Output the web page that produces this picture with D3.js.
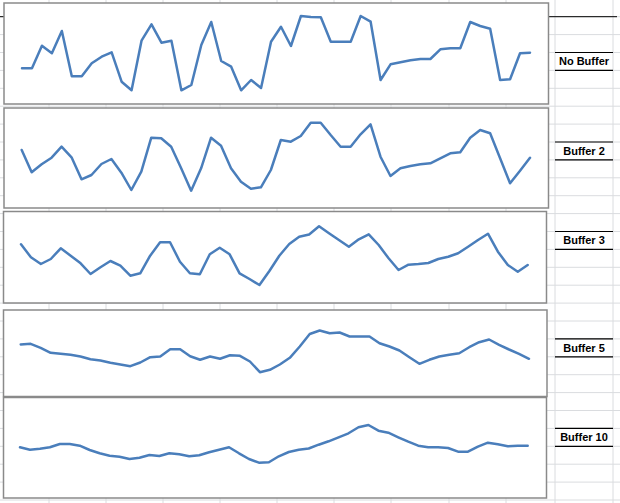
<!DOCTYPE html>
<html>
<head>
<meta charset="utf-8">
<script src="https://cdn.jsdelivr.net/npm/d3@7"></script>
<style>
  html, body { margin: 0; padding: 0; background: #fff; }
  svg { display: block; }
</style>
</head>
<body>
<svg id="chart" width="620" height="503"></svg>
<script>
// ---------- data ----------
const seriesNames = ["No Buffer", "Buffer 2", "Buffer 3", "Buffer 5", "Buffer 10"];

const noBuffer = [35.7,35.7,58.3,50.7,73,27.7,27.7,40.7,47.3,51.7,22.3,13.7,63.3,79.7,61.3,63.3,13.7,19,59,82,43,37.3,13.7,24,16,62.3,77.3,58,88,87,86.7,62.3,62.3,62.3,88,82.3,24,39.7,41.7,43.7,45,45,54.7,55.7,55.7,82,78,75.3,24,24.7,50.7,51.3];

const buffer2 = [58,35.7,43.7,50.3,61.3,50.7,28.7,33,44,49,35.3,18,36.3,70.3,69.7,61.3,39.7,17.3,39.7,70.3,62.3,39.7,26.3,19.3,20.7,38,68,66.3,72,85.3,85.3,73,61.3,61.3,73.7,83.7,51.3,32,39.7,42,43.7,44.7,49.7,54.7,55.7,70.3,78,74.7,49.7,24.7,37.3,50.3];

const buffer3 = [58.7,45.7,39,44,54.7,47.3,39.7,29,35.7,42,37.3,27.3,29.7,47.3,60.7,60.7,41.3,29.7,28.7,48.7,55.3,48.7,29.7,24,18,32,47.3,59,66.3,68.5,76.7,69.7,63,56.3,63.7,68.7,58,44.7,33,38.3,39,40,44,46.3,49.7,56.3,63,69.3,51.3,38,31.3,38];

const buffer5 = [52,52.7,48.7,43.7,42.7,41.7,40,37.3,36,33.7,32,30.3,34,39.3,40,47.3,47.3,40.3,36.7,40,37.7,41.3,40.7,35,24.3,26.7,32,38.7,50,62.5,66,63.3,64,60,60,60,53.3,50,46,39.3,32.7,36.7,40,41.7,43.3,49.3,54.3,57,51.7,47,42.7,37.7];

const buffer10 = [50.7,48.3,49.3,50.7,54,54,52.3,48,44.7,42.3,41.3,39,40.3,43,42,44.7,43.7,41.7,42.7,45.7,48.3,50.7,44.7,39,35.3,35.7,41.7,46,48.3,49.5,53.3,56.7,60.7,64.7,70.7,73,67.3,65.3,60.7,56.3,52.3,50.7,50.7,50,46.3,46.3,51.3,55.3,53.7,51.7,52.3,52.3];

const allSeries = [noBuffer, buffer2, buffer3, buffer5, buffer10];

// ---------- layout ----------
const W = 620, H = 503;
const panels = [
  {top: 3,     bottom: 104,   left: 4,   right: 548.5, x0: 22,   x1: 530},
  {top: 108,   bottom: 208,   left: 4,   right: 548.5, x0: 21.7, x1: 530},
  {top: 211.5, bottom: 303,   left: 3.5, right: 546.5, x0: 21,   x1: 527.7},
  {top: 310,   bottom: 396.5, left: 3.5, right: 547,   x0: 20.7, x1: 529},
  {top: 397.5, bottom: 498,   left: 3.5, right: 546.5, x0: 20,   x1: 527.7}
];
const labelRows = [2, 7, 12, 18, 23]; // spreadsheet row index of label cell top
const rowY = k => 16.7 + 17.9 * k;
const colX = [49, 106, 163, 220, 277, 334, 391, 449, 506, 555, 613];

const svg = d3.select("#chart");
svg.append("rect").attr("width", W).attr("height", H).attr("fill", "#fff");

// spreadsheet grid
const grid = svg.append("g").attr("stroke", "#dadcdf").attr("stroke-width", 1);
d3.range(-1, 28).forEach(k => {
  grid.append("line").attr("x1", 0).attr("x2", W).attr("y1", rowY(k)).attr("y2", rowY(k));
});
colX.forEach(x => {
  grid.append("line").attr("x1", x).attr("x2", x).attr("y1", 0).attr("y2", H);
});

// black border under row 1
svg.append("line").attr("x1", 0).attr("x2", 617).attr("y1", rowY(0)).attr("y2", rowY(0))
  .attr("stroke", "#000").attr("stroke-width", 1);

// label cells
seriesNames.forEach((name, i) => {
  const k = labelRows[i];
  const g = svg.append("g");
  [rowY(k), rowY(k + 1)].forEach(y => {
    g.append("line").attr("x1", 555).attr("x2", 613).attr("y1", y).attr("y2", y)
      .attr("stroke", "#000").attr("stroke-width", 1.2);
  });
  g.append("text")
    .attr("x", 584).attr("y", (rowY(k) + rowY(k + 1)) / 2 + 4)
    .attr("text-anchor", "middle")
    .attr("font-family", "'Liberation Sans', Arial, sans-serif")
    .attr("font-weight", "bold").attr("font-size", 11)
    .attr("fill", "#000")
    .text(name);
});

// chart panels
allSeries.forEach((vals, i) => {
  const p = panels[i];
  const g = svg.append("g");
  g.append("rect")
    .attr("x", p.left).attr("y", p.top)
    .attr("width", p.right - p.left).attr("height", p.bottom - p.top)
    .attr("fill", "#fff").attr("stroke", "#8a8a8a").attr("stroke-width", 1.5);

  const x = d3.scaleLinear().domain([0, vals.length - 1]).range([p.x0, p.x1]);
  const y = d3.scaleLinear().domain([0, 100]).range([p.bottom, p.bottom - 100]);
  const line = d3.line().x((d, j) => x(j)).y(d => y(d));
  g.append("path").datum(vals)
    .attr("d", line)
    .attr("fill", "none")
    .attr("stroke", "#4a7ebb")
    .attr("stroke-width", 2.5)
    .attr("stroke-linejoin", "round")
    .attr("stroke-linecap", "round");
});
</script>
</body>
</html>
